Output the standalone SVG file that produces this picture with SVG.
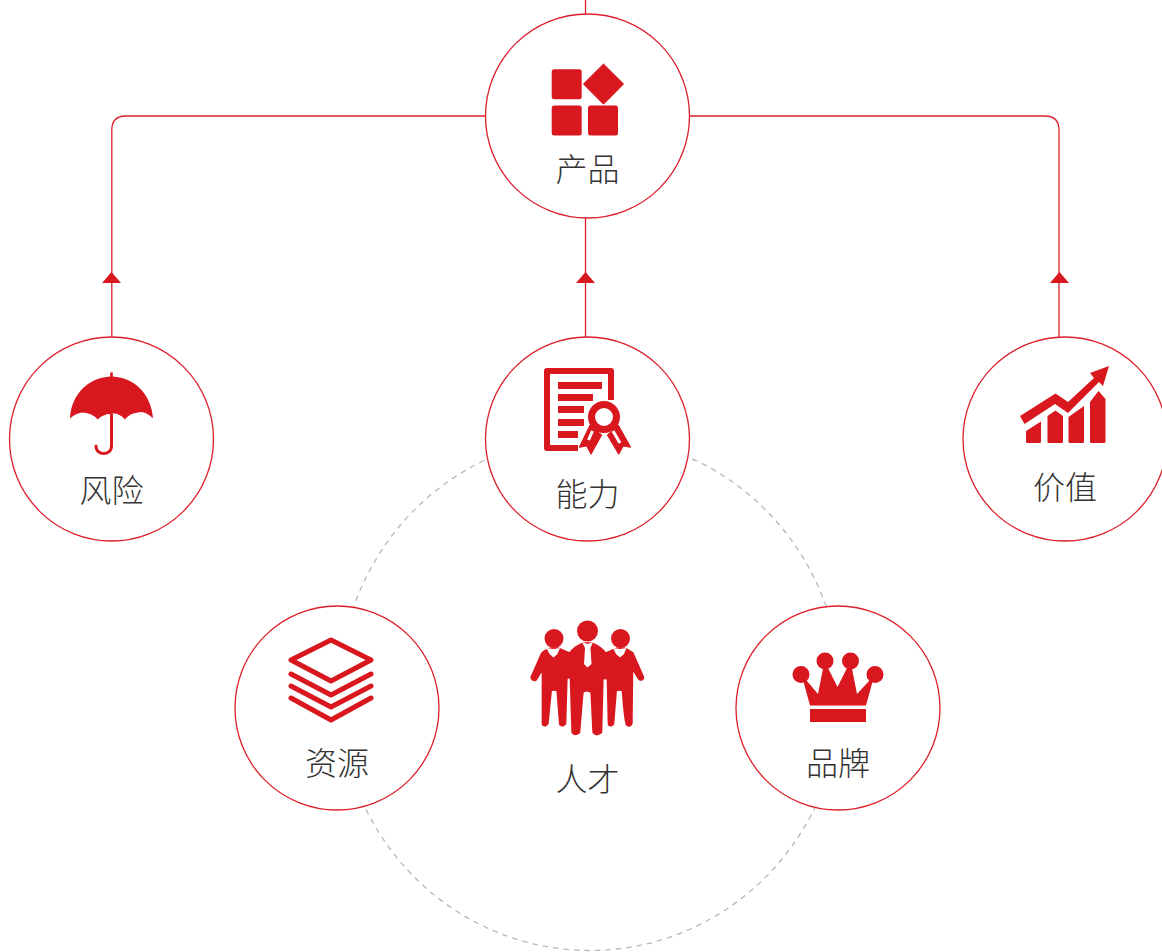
<svg xmlns="http://www.w3.org/2000/svg" width="1162" height="952" viewBox="0 0 1162 952">
<style>
.c{fill:#fff;stroke:#dc1f2b;stroke-width:1.3}
.l{fill:none;stroke:#dc1f2b;stroke-width:1.3}
.i{fill:#d8171e}
.s{fill:none;stroke:#d8171e}
.t{font-family:"Noto Sans CJK SC","Noto Sans",sans-serif;font-size:32px;font-weight:300;fill:#333;text-anchor:middle}
</style>
<defs><path id="arrow" class="i" d="M0 0L9.500 11H-9.500Z"/></defs>
<g id="dashed-ring"><ellipse cx="590" cy="693.500" rx="251" ry="257" fill="none" stroke="#b6b8bd" stroke-width="1.300" stroke-dasharray="5.500 5"/></g>
<g id="connectors">
<path class="l" d="M585.500 0V14M585.500 217V337"/>
<path class="l" d="M111.800 337V130Q111.800 116 125.800 116H486"/>
<path class="l" d="M689 116H1045Q1059 116 1059 130V337"/>
<use href="#arrow" x="111.500" y="272"/>
<use href="#arrow" x="585.500" y="272"/>
<use href="#arrow" x="1059.500" y="272"/>
</g>
<g id="node-product">
<circle class="c" cx="587.500" cy="116" r="102"/>
<rect class="i" x="551.700" y="69.300" width="30" height="30" rx="2.500"/>
<rect class="i" x="551.700" y="105.500" width="30" height="30" rx="2.500"/>
<rect class="i" x="588" y="105.500" width="30" height="30" rx="2.500"/>
<path class="i" d="M603.500 64L623.600 84L603.500 104.200L583.400 84Z" stroke="#d8171e" stroke-width="1" stroke-linejoin="round"/>
<text class="t" x="587.500" y="180.500">产品</text>
</g>
<g id="node-risk">
<circle class="c" cx="111.500" cy="439" r="102"/>
<path class="i" d="M110.200 376.500V372.500H112.800V376.500C135 377.500 151.500 395 153 418.500Q145 410 138 412.500Q130 413 125 419.500Q118 412 110.500 414Q103 414 97.700 419.500Q92 413 83 412.500Q76 413 70 418.500C71 395 88 377.500 110.200 376.500Z"/>
<path class="s" stroke-width="3" stroke-linecap="round" d="M111.500 415V446C111.500 456 96 456 96 446"/>
<text class="t" x="111.500" y="501.500">风险</text>
</g>
<g id="node-ability">
<circle class="c" cx="587.500" cy="439" r="102"/>
<path class="s" stroke-width="6" stroke-linejoin="round" d="M611 400V371H547V448H578"/>
<path class="i" d="M558 382H602V389H558ZM558 394H593V401H558ZM558 406H584V413H558ZM558 419H584V426H558ZM558 431H578V438H558Z"/>
<path class="i" stroke="#d8171e" stroke-linejoin="round" d="M590 425L579.300 447.300L586.700 446L591 454.300L601.700 435ZM618.300 425L630.700 447.300L623.300 446L618.700 454.300L607.300 435Z"/>
<path stroke="#fff" stroke-width="3" d="M592.500 431L588.500 440M613 431L620 443"/>
<circle cx="604" cy="417" r="12.500" fill="#fff" stroke="#d8171e" stroke-width="7"/>
<text class="t" x="587.500" y="505.500">能力</text>
</g>
<g id="node-value">
<circle class="c" cx="1065" cy="439" r="102"/>
<path class="i" d="M1020 416L1055.500 393.500L1068 402L1094 378L1090 373L1109 366L1103 386L1099 382L1068 413L1055 404L1024.500 424Z"/>
<path class="i" d="M1026 431L1041 421.500V441.500Q1041 443 1039.500 443H1027.500Q1026 443 1026 441.500ZM1047.500 416L1055.500 410.500L1063 416V441.500Q1063 443 1061.500 443H1049Q1047.500 443 1047.500 441.500ZM1068.500 417L1084 406V441.500Q1084 443 1082.500 443H1070Q1068.500 443 1068.500 441.500ZM1090 402L1098.500 391L1105.500 399V441.500Q1105.500 443 1104 443H1091.500Q1090 443 1090 441.500Z"/>
<text class="t" x="1065" y="498.500">价值</text>
</g>
<g id="node-resource">
<circle class="c" cx="337" cy="708" r="102"/>
<g class="s" stroke-width="5" stroke-linecap="round" stroke-linejoin="round">
<path d="M331 640L371 660L331 681L291 660Z"/>
<path d="M291 674L331 695L371 674M291 686L331 707L371 686M291 698L331 720L371 698"/>
</g>
<text class="t" x="337" y="774.500">资源</text>
</g>
<g id="node-talent">
<circle class="i" cx="587.500" cy="631" r="10.500"/>
<circle class="i" cx="554" cy="638.500" r="9.500"/>
<circle class="i" cx="620.500" cy="638.500" r="9.500"/>
<path class="i" stroke="#d8171e" stroke-width="12" stroke-linejoin="round" transform="translate(520 610) scale(.33333)" d="M37 203L68 132Q72 126 92 118H114L150 134Q165 112 190 103H216Q240 112 256 134L292 118H312Q330 126 336 132L367 203Q366 208 360 206L334 165L332 340Q328 346 322 342Q318 340 311 240Q298 232 285 240L277 340Q273 346 269 342L266 205Q255 198 245 205L241 366Q230 374 223 366L217 245Q200 232 185 245L175 366Q165 374 160 366L155 203Q146 196 137 203L133 340Q128 346 123 342L115 240Q102 232 90 240L80 340Q75 346 71 342L71 165L46 207Q40 209 37 203Z"/>
<path d="M546.500 648L553.500 649L560 648L557.500 654L553.500 657.500L549.500 654ZM613 648L620 649L626.500 648L624 654L620 657.500L616 654ZM582 642L587.500 644L593 642L590.500 648L591.500 664L587.500 667.500L584 664L585 648Z" fill="#fff"/>
<text class="t" x="587.500" y="790.500">人才</text>
</g>
<g id="node-brand">
<circle class="c" cx="838" cy="708" r="102"/>
<circle class="i" cx="801" cy="674.500" r="8.500"/>
<circle class="i" cx="825" cy="661" r="8.500"/>
<circle class="i" cx="850.500" cy="661" r="8.500"/>
<circle class="i" cx="875" cy="674.500" r="8.500"/>
<path class="i" d="M803 680L807 681L818 694L823.500 666H827L837.500 687L848 666H851.500L857 694L869 681L873 680L866 705.500H810Z"/>
<rect class="i" x="810" y="709" width="56" height="13"/>
<text class="t" x="838" y="774.500">品牌</text>
</g>
</svg>
